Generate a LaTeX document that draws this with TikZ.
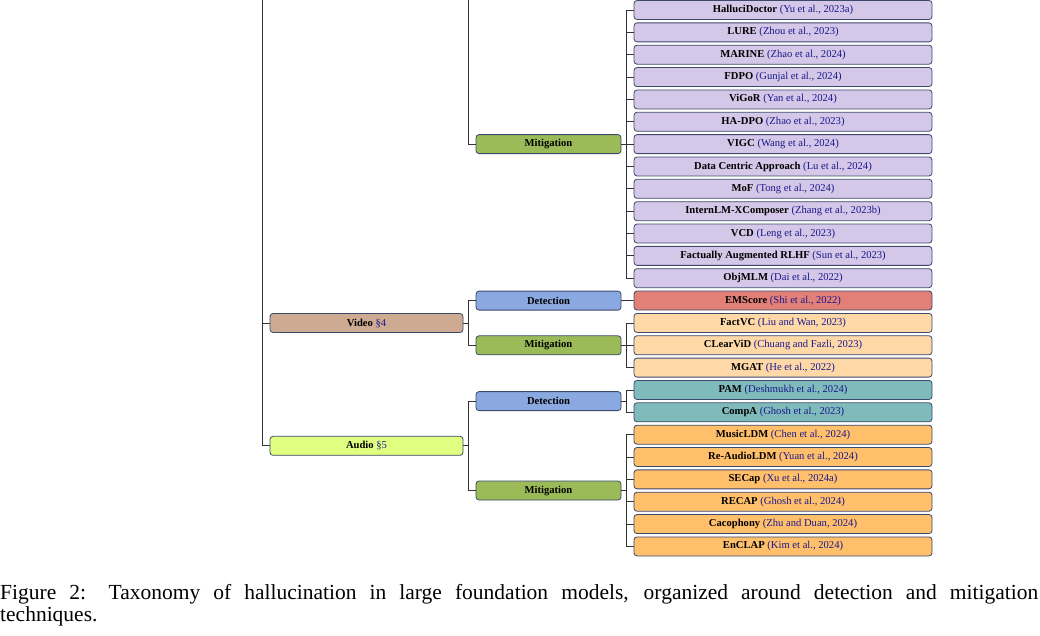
\documentclass[tikz,border=0pt]{standalone}
\usepackage{fontspec}
\setmainfont{Liberation Serif}
\definecolor{citeblue}{rgb}{0.1,0.1,0.55}
\definecolor{boxline}{HTML}{3B4A6B}
\definecolor{cpurple}{HTML}{D4C7E7}
\definecolor{cgreen}{HTML}{9BBB59}
\definecolor{cblue}{HTML}{8AA9E0}
\definecolor{cred}{HTML}{E28078}
\definecolor{cbrown}{HTML}{CDAA91}
\definecolor{cpeach}{HTML}{FFD8A8}
\definecolor{cteal}{HTML}{80BBBB}
\definecolor{cyellow}{HTML}{E0FF80}
\definecolor{corange}{HTML}{FFBF6B}
\newcommand{\lf}[2]{\textbf{#1} \textcolor{citeblue}{(#2)}}
\begin{document}
\begin{tikzpicture}[x=1pt,y=-1pt,
  box/.style={draw=boxline,line width=0.8pt,rounded corners=3pt,inner sep=0pt,
    minimum height=19pt,font=\fontsize{10.6}{12}\selectfont,anchor=center},
  lone/.style={box,minimum width=193pt},
  ltwo/.style={box,minimum width=145pt},
  leaf/.style={box,minimum width=298pt},
  conn/.style={draw=black!80,line width=0.8pt}]
\useasboundingbox (0,0) rectangle (1040,635);
% level 1
\node[lone,fill=cbrown] (video) at (366.5,323) {\textbf{Video} \textcolor{citeblue}{\S4}};
\node[lone,fill=cyellow] (audio) at (366.5,445.8) {\textbf{Audio} \textcolor{citeblue}{\S5}};
% level 2
\node[ltwo,fill=cgreen] (imit) at (548.5,144.1) {\textbf{Mitigation}};
\node[ltwo,fill=cblue] (vdet) at (548.5,300.6) {\textbf{Detection}};
\node[ltwo,fill=cgreen] (vmit) at (548.5,345.3) {\textbf{Mitigation}};
\node[ltwo,fill=cblue] (adet) at (548.5,401.1) {\textbf{Detection}};
\node[ltwo,fill=cgreen] (amit) at (548.5,490.5) {\textbf{Mitigation}};
% leaves
\node[leaf,fill=cpurple] (l0) at (783,10.0) {\lf{HalluciDoctor}{Yu et al., 2023a}};
\node[leaf,fill=cpurple] (l1) at (783,32.35) {\lf{LURE}{Zhou et al., 2023}};
\node[leaf,fill=cpurple] (l2) at (783,54.7) {\lf{MARINE}{Zhao et al., 2024}};
\node[leaf,fill=cpurple] (l3) at (783,77.05) {\lf{FDPO}{Gunjal et al., 2024}};
\node[leaf,fill=cpurple] (l4) at (783,99.4) {\lf{ViGoR}{Yan et al., 2024}};
\node[leaf,fill=cpurple] (l5) at (783,121.75) {\lf{HA-DPO}{Zhao et al., 2023}};
\node[leaf,fill=cpurple] (l6) at (783,144.1) {\lf{VIGC}{Wang et al., 2024}};
\node[leaf,fill=cpurple] (l7) at (783,166.45) {\lf{Data Centric Approach}{Lu et al., 2024}};
\node[leaf,fill=cpurple] (l8) at (783,188.8) {\lf{MoF}{Tong et al., 2024}};
\node[leaf,fill=cpurple] (l9) at (783,211.15) {\lf{InternLM-XComposer}{Zhang et al., 2023b}};
\node[leaf,fill=cpurple] (l10) at (783,233.5) {\lf{VCD}{Leng et al., 2023}};
\node[leaf,fill=cpurple] (l11) at (783,255.85) {\lf{Factually Augmented RLHF}{Sun et al., 2023}};
\node[leaf,fill=cpurple] (l12) at (783,278.2) {\lf{ObjMLM}{Dai et al., 2022}};
\node[leaf,fill=cred] (l13) at (783,300.55) {\lf{EMScore}{Shi et al., 2022}};
\node[leaf,fill=cpeach] (l14) at (783,322.9) {\lf{FactVC}{Liu and Wan, 2023}};
\node[leaf,fill=cpeach] (l15) at (783,345.25) {\lf{CLearViD}{Chuang and Fazli, 2023}};
\node[leaf,fill=cpeach] (l16) at (783,367.6) {\lf{MGAT}{He et al., 2022}};
\node[leaf,fill=cteal] (l17) at (783,389.95) {\lf{PAM}{Deshmukh et al., 2024}};
\node[leaf,fill=cteal] (l18) at (783,412.3) {\lf{CompA}{Ghosh et al., 2023}};
\node[leaf,fill=corange] (l19) at (783,434.65) {\lf{MusicLDM}{Chen et al., 2024}};
\node[leaf,fill=corange] (l20) at (783,457.0) {\lf{Re-AudioLDM}{Yuan et al., 2024}};
\node[leaf,fill=corange] (l21) at (783,479.35) {\lf{SECap}{Xu et al., 2024a}};
\node[leaf,fill=corange] (l22) at (783,501.7) {\lf{RECAP}{Ghosh et al., 2024}};
\node[leaf,fill=corange] (l23) at (783,524.05) {\lf{Cacophony}{Zhu and Duan, 2024}};
\node[leaf,fill=corange] (l24) at (783,546.4) {\lf{EnCLAP}{Kim et al., 2024}};
% free ends at the top edge
\coordinate (topa) at (262,0);
\coordinate (topb) at (468,0);
% connectors
\draw[conn] (topa) |- (video.west);
\draw[conn] (topa) |- (audio.west);
\draw[conn] (topb) |- (imit.west);
\foreach \c in {vdet,vmit} \draw[conn] (video.east) -- ++(5pt,0) |- (\c.west);
\foreach \c in {adet,amit} \draw[conn] (audio.east) -- ++(5pt,0) |- (\c.west);
\foreach \i in {0,...,12} \draw[conn] (imit.east) -- ++(5pt,0) |- (l\i.west);
\draw[conn] (vdet.east) -- (l13.west);
\foreach \i in {14,15,16} \draw[conn] (vmit.east) -- ++(5pt,0) |- (l\i.west);
\foreach \i in {17,18} \draw[conn] (adet.east) -- ++(5pt,0) |- (l\i.west);
\foreach \i in {19,...,24} \draw[conn] (amit.east) -- ++(5pt,0) |- (l\i.west);
% caption
\node[anchor=base west,inner sep=0pt,text width=1038pt,align=justify,
  font=\fontsize{21.5}{22.7}\selectfont] (cap) at (0,599)
  {Figure 2: Taxonomy of hallucination in large foundation models, organized around detection and mitigation\linebreak techniques.};
\end{tikzpicture}
\end{document}
